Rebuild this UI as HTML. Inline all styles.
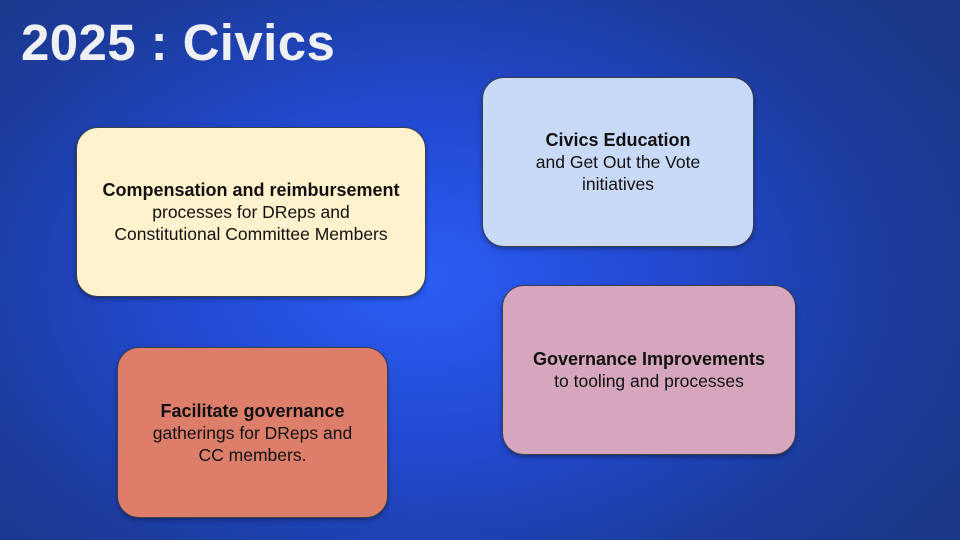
<!DOCTYPE html>
<html>
<head>
<meta charset="utf-8">
<style>
  html,body{margin:0;padding:0;}
  body{width:960px;height:540px;overflow:hidden;position:relative;
    background:radial-gradient(ellipse 620px 420px at 420px 280px,#2a5df5 0%,#2249d0 40%,#1c3c9e 75%,#1a3788 100%);
    font-family:"Liberation Sans",Arial,sans-serif;}
  .title{position:absolute;left:21px;top:13px;color:#eef0f6;font-weight:bold;font-size:51px;letter-spacing:0.4px;}
  .box{position:absolute;box-sizing:border-box;border:1.5px solid #3a3f4a;border-radius:22px;
    display:flex;flex-direction:column;justify-content:center;align-items:center;text-align:center;
    font-size:17.5px;line-height:22px;color:#111;box-shadow:0 2px 4px rgba(0,0,0,0.35);}
  .box b{font-weight:bold;font-size:18px;}
</style>
</head>
<body>
<div class="title">2025 : Civics</div>

<div class="box" style="left:76px;top:127px;width:350px;height:170px;background:#fff2cc;">
  <div><b>Compensation and reimbursement</b><br>processes for DReps and<br>Constitutional Committee Members</div>
</div>

<div class="box" style="left:482px;top:77px;width:272px;height:170px;background:#c9daf8;">
  <div><b>Civics Education</b><br>and Get Out the Vote<br>initiatives</div>
</div>

<div class="box" style="left:502px;top:285px;width:294px;height:170px;background:#d5a6bd;">
  <div><b>Governance Improvements</b><br>to tooling and processes</div>
</div>

<div class="box" style="left:117px;top:347px;width:271px;height:171px;background:#dd7e6b;">
  <div><b>Facilitate governance</b><br>gatherings for DReps and<br>CC members.</div>
</div>
</body>
</html>
